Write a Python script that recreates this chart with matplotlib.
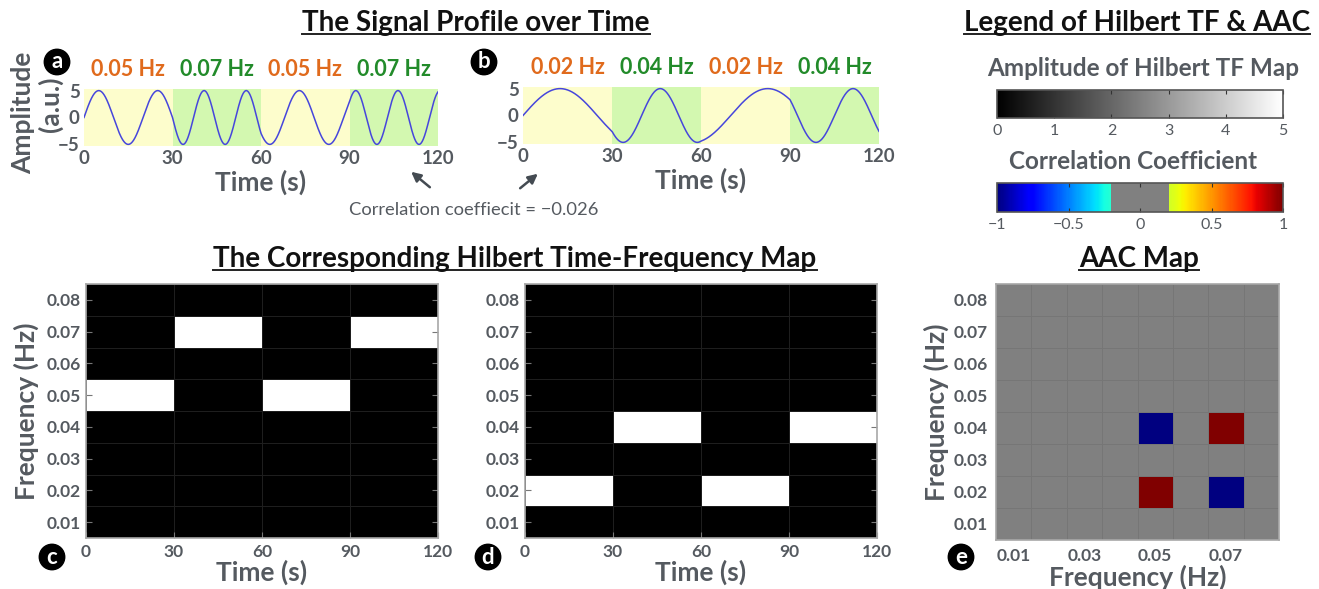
import numpy as np
import matplotlib
matplotlib.use('Agg')
from matplotlib import pyplot as plt
from matplotlib.colors import ListedColormap
from matplotlib.lines import Line2D


plt.rcParams['font.family'] = ['Lato', 'DejaVu Sans']

GRAY_TXT = '#555a60'
ORANGE = '#e06a1c'
GREEN = '#228b2a'
LABEL_SIZE = 19

# Segmentos del perfil de la senal (s) y sus frecuencias (Hz)
seg_edges = [0, 30, 60, 90, 120]
freqs_a = [0.05, 0.07, 0.05, 0.07]
freqs_b = [0.02, 0.04, 0.02, 0.04]
amplitude = 5

# Mapas de Hilbert: filas = frecuencia, columnas = tramo de tiempo
freq_bins = [0.01, 0.02, 0.03, 0.04, 0.05, 0.06, 0.07, 0.08]
tf_c = [[0, 0, 0, 0],
        [0, 0, 0, 0],
        [0, 0, 0, 0],
        [0, 0, 0, 0],
        [5, 0, 5, 0],
        [0, 0, 0, 0],
        [0, 5, 0, 5],
        [0, 0, 0, 0]]
tf_d = [[0, 0, 0, 0],
        [5, 0, 5, 0],
        [0, 0, 0, 0],
        [0, 5, 0, 5],
        [0, 0, 0, 0],
        [0, 0, 0, 0],
        [0, 0, 0, 0],
        [0, 0, 0, 0]]

# Mapa AAC: filas = frecuencia (senal b), columnas = frecuencia (senal a)
aac = [[0, 0, 0, 0, 0, 0, 0, 0],
       [0, 0, 0, 0, 1, 0, -1, 0],
       [0, 0, 0, 0, 0, 0, 0, 0],
       [0, 0, 0, 0, -1, 0, 1, 0],
       [0, 0, 0, 0, 0, 0, 0, 0],
       [0, 0, 0, 0, 0, 0, 0, 0],
       [0, 0, 0, 0, 0, 0, 0, 0],
       [0, 0, 0, 0, 0, 0, 0, 0]]
aac_xticks = [0.01, 0.03, 0.05, 0.07]
corr_text = 'Correlation coeffiecit = \u22120.026'

W, H = 1319, 589


def px_axes(fig, x0, y0, x1, y1):
    """Crea ejes a partir de coordenadas en pixeles (origen arriba a la izquierda)."""
    return fig.add_axes([x0 / W, 1 - y1 / H, (x1 - x0) / W, (y1 - y0) / H])


def signal(freqs):
    t = np.linspace(seg_edges[0], seg_edges[-1], 2401)
    f = np.zeros_like(t)
    for i, fr in enumerate(freqs):
        f[(t >= seg_edges[i]) & (t <= seg_edges[i + 1])] = fr
    dt = t[1] - t[0]
    phase = 2 * np.pi * np.concatenate([[0], np.cumsum(f[:-1] * dt)])
    return t, amplitude * np.sin(phase)


def signal_panel(ax, freqs, slow):
    t, y = signal(freqs)
    for i, fr in enumerate(freqs):
        color = '#fdfdcc' if fr == slow else '#d3f8b0'
        ax.axvspan(seg_edges[i], seg_edges[i + 1], color=color, lw=0)
    ax.plot(t, y, color='#4646dc', lw=1.1)
    ax.set_xlim(0, 120)
    ax.set_ylim(-5.3, 5.3)
    ax.set_xticks(seg_edges)
    ax.set_yticks([-5, 0, 5])
    ax.set_yticklabels(['\u22125', '0', '5'])
    for s in ax.spines.values():
        s.set_visible(False)
    ax.tick_params(length=0, labelsize=13.5, labelcolor=GRAY_TXT, pad=3)
    for lab in ax.get_xticklabels() + ax.get_yticklabels():
        lab.set_fontweight('bold')
    ax.set_xlabel('Time (s)', fontsize=LABEL_SIZE, fontweight='bold', color=GRAY_TXT, labelpad=2)
    for i, fr in enumerate(freqs):
        ax.text((seg_edges[i] + seg_edges[i + 1]) / 2, 7.0, '{:.2f} Hz'.format(fr),
                ha='center', va='bottom', fontsize=15.5, fontweight='bold',
                color=ORANGE if fr == slow else GREEN)


def style_heat(ax):
    for s in ax.spines.values():
        s.set_color('#a8a8a8')
        s.set_linewidth(1.2)
    ax.tick_params(direction='in', length=4, color='#777777', right=True,
                   labelsize=12.5, labelcolor=GRAY_TXT, pad=4)
    for lab in ax.get_xticklabels() + ax.get_yticklabels():
        lab.set_fontweight('bold')


def tf_panel(ax, data):
    ax.pcolormesh(seg_edges, np.arange(0.005, 0.086, 0.01), np.array(data),
                  cmap='gray', vmin=0, vmax=5, edgecolors='#1e1e1e', linewidth=0.5)
    ax.set_xlim(0, 120)
    ax.set_ylim(0.005, 0.085)
    ax.set_xticks(seg_edges)
    ax.set_yticks(freq_bins)
    ax.set_yticklabels(['{:.2f}'.format(v) for v in freq_bins])
    style_heat(ax)
    ax.set_xlabel('Time (s)', fontsize=LABEL_SIZE, fontweight='bold', color=GRAY_TXT, labelpad=0)


def circle_label(fig, x, y, letter):
    fig.text(x / W, 1 - y / H, letter, ha='center', va='center', fontsize=16,
             fontweight='bold', color='white',
             bbox=dict(boxstyle='circle,pad=0.1', fc='black', ec='black'))


fig = plt.figure(figsize=(W / 100, H / 100), dpi=100)

# --- Perfiles de senal ---
ax_a = px_axes(fig, 84, 89, 438, 146)
signal_panel(ax_a, freqs_a, 0.05)
fig.text(23 / W, 1 - 113 / H, 'Amplitude', rotation=90, ha='center', va='center',
         fontsize=LABEL_SIZE, fontweight='bold', color=GRAY_TXT)
fig.text(50 / W, 1 - 104 / H, '(a.u.)', rotation=90, ha='center', va='center',
         fontsize=LABEL_SIZE, fontweight='bold', color=GRAY_TXT)

ax_b = px_axes(fig, 523, 87, 879, 144)
signal_panel(ax_b, freqs_b, 0.02)

# --- Mapas de Hilbert ---
ax_c = px_axes(fig, 86, 284, 438, 538)
tf_panel(ax_c, tf_c)
ax_c.set_ylabel('Frequency (Hz)', fontsize=LABEL_SIZE, fontweight='bold', color=GRAY_TXT, labelpad=5)

ax_d = px_axes(fig, 525, 284, 877, 538)
tf_panel(ax_d, tf_d)

# --- Mapa AAC ---
jet = plt.get_cmap('jet')(np.linspace(0, 1, 256))
vals = np.linspace(-1, 1, 256)
jet[np.abs(vals) < 0.2] = [0.5, 0.5, 0.5, 1]
aac_cmap = ListedColormap(jet)

ax_e = px_axes(fig, 996, 284, 1279, 540)
edges = np.arange(0.005, 0.086, 0.01)
ax_e.pcolormesh(edges, edges, np.array(aac), cmap=aac_cmap, vmin=-1, vmax=1,
                edgecolors='#767676', linewidth=0.5)
ax_e.set_xlim(0.005, 0.085)
ax_e.set_ylim(0.005, 0.085)
ax_e.set_xticks(aac_xticks)
ax_e.set_xticklabels(['{:.2f}'.format(v) for v in aac_xticks])
ax_e.set_yticks(freq_bins)
ax_e.set_yticklabels(['{:.2f}'.format(v) for v in freq_bins])
style_heat(ax_e)
ax_e.tick_params(length=0, pad=6)
ax_e.set_xlabel('Frequency (Hz)', fontsize=LABEL_SIZE, fontweight='bold', color=GRAY_TXT, labelpad=0)
ax_e.set_ylabel('Frequency (Hz)', fontsize=LABEL_SIZE, fontweight='bold', color=GRAY_TXT, labelpad=3)

# --- Leyendas (barras de color) ---
cax1 = px_axes(fig, 997, 90, 1283, 118)
sm1 = plt.cm.ScalarMappable(cmap='gray', norm=plt.Normalize(0, 5))
cb1 = fig.colorbar(sm1, cax=cax1, orientation='horizontal', ticks=[0, 1, 2, 3, 4, 5])

cax2 = px_axes(fig, 997, 183, 1283, 212)
sm2 = plt.cm.ScalarMappable(cmap=aac_cmap, norm=plt.Normalize(-1, 1))
cb2 = fig.colorbar(sm2, cax=cax2, orientation='horizontal', ticks=[-1, -0.5, 0, 0.5, 1])
cb2.ax.set_xticklabels(['\u22121', '\u22120.5', '0', '0.5', '1'])

for cb in (cb1, cb2):
    cb.outline.set_edgecolor('#555555')
    cb.outline.set_linewidth(1.2)
    cb.ax.tick_params(direction='in', length=3, color='#333333', top=True,
                      labelsize=11.5, labelcolor=GRAY_TXT, pad=4)

fig.text(1143 / W, 1 - 68 / H, 'Amplitude of Hilbert TF Map', ha='center', va='center',
         fontsize=17.5, fontweight='bold', color=GRAY_TXT)
fig.text(1133 / W, 1 - 162 / H, 'Correlation Coefficient', ha='center', va='center',
         fontsize=17.5, fontweight='bold', color=GRAY_TXT)

# --- Titulos subrayados ---
titles = [(476, 31, 'The Signal Profile over Time'),
          (1137, 31, 'Legend of Hilbert TF & AAC'),
          (515, 267, 'The Corresponding Hilbert Time-Frequency Map'),
          (1139, 267, 'AAC Map')]
title_objs = []
for x, y, s in titles:
    title_objs.append(fig.text(x / W, 1 - y / H, s, ha='center', va='baseline',
                               fontsize=20, fontweight='bold', color='#111111'))

fig.canvas.draw()
renderer = fig.canvas.get_renderer()
for (x, y, s), txt in zip(titles, title_objs):
    bb = txt.get_window_extent(renderer)
    yline = 1 - (y + 3) / H
    fig.add_artist(Line2D([bb.x0 / W, bb.x1 / W], [yline, yline],
                          color='#222222', lw=1.4))

# --- Anotacion de correlacion ---
fig.text(474 / W, 1 - 210 / H, corr_text, ha='center', va='center',
         fontsize=13.2, color=GRAY_TXT)
fig.add_artist(plt.Annotation('', xy=(409 / W, 1 - 170 / H), xytext=(432 / W, 1 - 189 / H),
                              xycoords='figure fraction',
                              arrowprops=dict(arrowstyle='-|>', color='#444b52', lw=1.8,
                                              mutation_scale=14)))
fig.add_artist(plt.Annotation('', xy=(540 / W, 1 - 172 / H), xytext=(518 / W, 1 - 190 / H),
                              xycoords='figure fraction',
                              arrowprops=dict(arrowstyle='-|>', color='#444b52', lw=1.8,
                                              mutation_scale=14)))

# --- Etiquetas circulares ---
circle_label(fig, 57, 62, 'a')
circle_label(fig, 484, 62, 'b')
circle_label(fig, 52, 557, 'c')
circle_label(fig, 488, 557, 'd')
circle_label(fig, 961, 557, 'e')

fig.savefig('out.png', dpi=100)
